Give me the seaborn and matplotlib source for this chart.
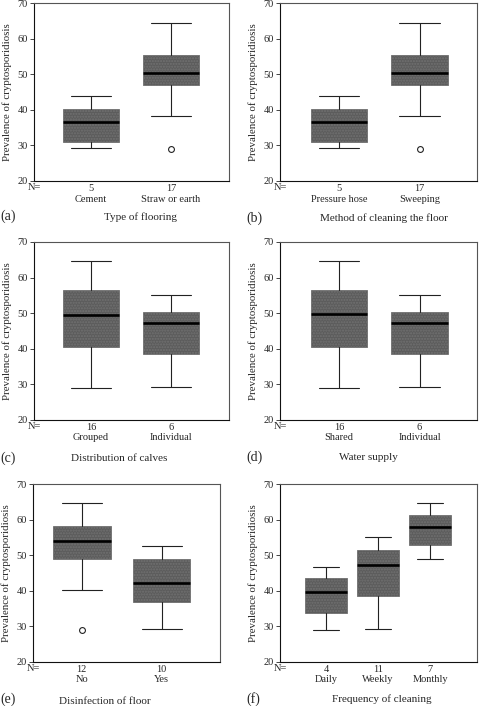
import numpy as np
import matplotlib
matplotlib.use("Agg")
import matplotlib.pyplot as plt
import seaborn as sns

# ------------------------------------------------------------
# Datos (resumen de cinco numeros por grupo)
# ------------------------------------------------------------
# (a) Type of flooring
floor_cats = ["Cement", "Straw or earth"]
floor_n = [5, 17]
floor_low = [29.3, 38.4]
floor_q1 = [31.0, 47.1]
floor_med = [36.7, 50.3]
floor_q3 = [40.2, 55.5]
floor_high = [44.0, 64.6]
floor_out = [[], [28.9]]

# (b) Method of cleaning the floor
clean_cats = ["Pressure hose", "Sweeping"]
clean_n = [5, 17]
clean_low = [29.3, 38.4]
clean_q1 = [31.0, 47.1]
clean_med = [36.7, 50.3]
clean_q3 = [40.2, 55.4]
clean_high = [44.0, 64.6]
clean_out = [[], [28.9]]

# (c) Distribution of calves
calves_cats = ["Grouped", "Individual"]
calves_n = [16, 6]
calves_low = [29.0, 29.2]
calves_q1 = [40.4, 38.5]
calves_med = [49.5, 47.1]
calves_q3 = [56.5, 50.2]
calves_high = [64.6, 55.1]
calves_out = [[], []]

# (d) Water supply
water_cats = ["Shared", "Individual"]
water_n = [16, 6]
water_low = [29.0, 29.2]
water_q1 = [40.4, 38.5]
water_med = [49.6, 47.2]
water_q3 = [56.6, 50.3]
water_high = [64.6, 55.1]
water_out = [[], []]

# (e) Disinfection of floor
disinf_cats = ["No", "Yes"]
disinf_n = [12, 10]
disinf_low = [40.2, 29.2]
disinf_q1 = [48.8, 36.8]
disinf_med = [53.9, 42.2]
disinf_q3 = [58.1, 48.8]
disinf_high = [64.6, 52.5]
disinf_out = [[28.9], []]

# (f) Frequency of cleaning
freq_cats = ["Daily", "Weekly", "Monthly"]
freq_n = [4, 11, 7]
freq_low = [28.9, 29.2, 48.9]
freq_q1 = [33.7, 38.5, 52.9]
freq_med = [39.5, 47.2, 58.0]
freq_q3 = [43.4, 51.5, 61.3]
freq_high = [46.6, 55.0, 64.6]
freq_out = [[], [], []]

# ------------------------------------------------------------
# Estilo
# ------------------------------------------------------------
sns.set_theme(style="white")
plt.rcParams["font.family"] = ["Liberation Serif", "DejaVu Serif"]
plt.rcParams["font.size"] = 7.5

W, H = 479, 706
fig = plt.figure(figsize=(W / 100, H / 100), dpi=100)

box_grey = "#5c5c5c"
ylab = "Prevalence of cryptosporidiosis"


def panel(px, cats, ns, low, q1, med, q3, high, outs, xlim, width, tag, tag_xy,
          xlabel, xlab_xy):
    left, top, right, bottom = px
    ax = fig.add_axes([left / W, 1 - bottom / H, (right - left) / W, (bottom - top) / H])

    stats = []
    for i in range(len(cats)):
        stats.append(dict(whislo=low[i], q1=q1[i], med=med[i], q3=q3[i],
                          whishi=high[i], fliers=outs[i],
                          label=f"{ns[i]}\n{cats[i]}"))
    ax.bxp(stats, positions=np.arange(len(cats)), widths=width, capwidths=0.5,
           patch_artist=True, showfliers=True,
           boxprops=dict(facecolor=box_grey, edgecolor="#717171", linewidth=0.6,
                         hatch="......"),
           medianprops=dict(color="black", linewidth=1.9),
           whiskerprops=dict(color="#222222", linewidth=0.8),
           capprops=dict(color="#222222", linewidth=0.8),
           flierprops=dict(marker="o", markerfacecolor="white",
                           markeredgecolor="#222222", markersize=4.2,
                           markeredgewidth=0.8))

    ax.set_xlim(xlim)
    ax.set_ylim(20, 70)
    ax.set_yticks(range(20, 71, 10))
    ax.set_ylabel(ylab, fontsize=7.8, labelpad=4)
    ax.tick_params(axis="x", length=0, pad=2.5, labelsize=7.5)
    ax.tick_params(axis="y", length=3, width=0.6, direction="out", left=True,
                   pad=1.5, labelsize=7.5)
    for s in ["left", "bottom"]:
        ax.spines[s].set_color("#111111")
        ax.spines[s].set_linewidth(0.8)
    for s in ["top", "right"]:
        ax.spines[s].set_color("#555555")
        ax.spines[s].set_linewidth(0.8)

    # etiqueta "N=" a la altura de los conteos
    ax.text(0, -6.5 / (bottom - top), "N=", transform=ax.transAxes,
            ha="center", va="center", fontsize=7.5)

    ax.set_xlabel(xlabel, fontsize=8, va="center")
    ax.xaxis.set_label_coords((xlab_xy[0] - left) / (right - left),
                              -(xlab_xy[1] - bottom) / (bottom - top))
    fig.text(tag_xy[0] / W, 1 - tag_xy[1] / H, tag, fontsize=10,
             ha="center", va="center")
    return ax


panel((34, 3.4, 229, 181), floor_cats, floor_n, floor_low, floor_q1, floor_med,
      floor_q3, floor_high, floor_out, (-0.71, 1.725), 0.7, "(a)", (8, 216),
      "Type of flooring", (140, 217))
panel((280, 3.4, 477, 181), clean_cats, clean_n, clean_low, clean_q1, clean_med,
      clean_q3, clean_high, clean_out, (-0.733, 1.714), 0.7, "(b)", (254.5, 218),
      "Method of cleaning the floor", (383.5, 218))
panel((34, 242, 229, 419.6), calves_cats, calves_n, calves_low, calves_q1,
      calves_med, calves_q3, calves_high, calves_out, (-0.71, 1.725), 0.7,
      "(c)", (8, 458), "Distribution of calves", (119.5, 459))
panel((280, 242, 477, 419.6), water_cats, water_n, water_low, water_q1,
      water_med, water_q3, water_high, water_out, (-0.733, 1.714), 0.7,
      "(d)", (255, 457), "Water supply", (368, 457.7))
panel((33, 484, 220, 661.6), disinf_cats, disinf_n, disinf_low, disinf_q1,
      disinf_med, disinf_q3, disinf_high, disinf_out, (-0.61, 1.73), 0.72,
      "(e)", (8, 699), "Disinfection of floor", (105.3, 701.5))
panel((280, 484, 477, 661.6), freq_cats, freq_n, freq_low, freq_q1, freq_med,
      freq_q3, freq_high, freq_out, (-0.885, 2.9), 0.8, "(f)", (253, 699),
      "Frequency of cleaning", (381.7, 699))

fig.savefig("out.png", dpi=100)
